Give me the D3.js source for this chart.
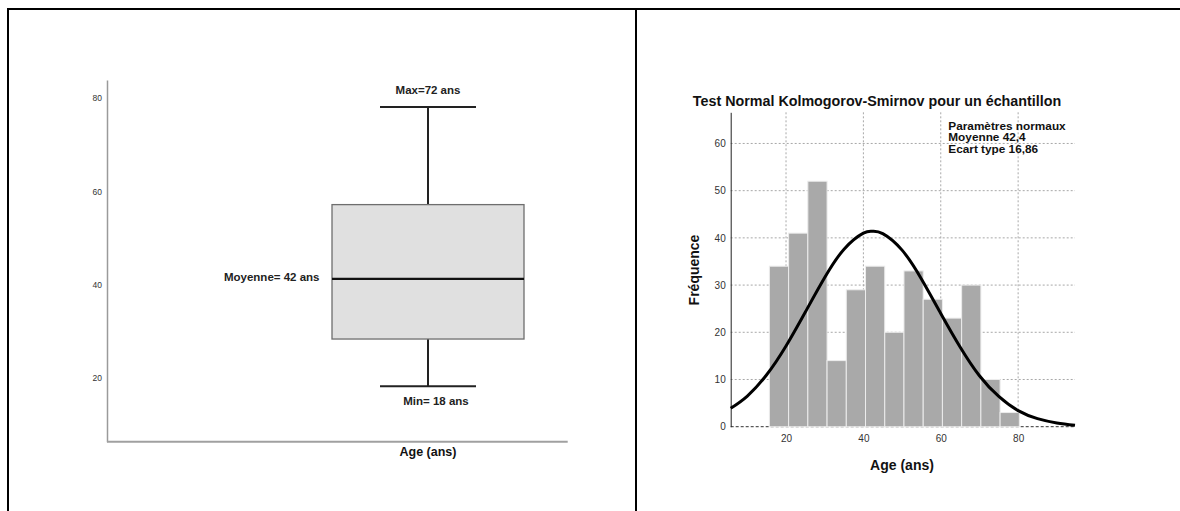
<!DOCTYPE html>
<html>
<head>
<meta charset="utf-8">
<script src="https://d3js.org/d3.v7.min.js"></script>
<style>
  body { margin: 0; background: #fff; }
  text { font-family: "Liberation Sans", Arial, sans-serif; }
</style>
</head>
<body>
<div id="chart"></div>
<script>
// Boxplot (left)
var boxCategory = ["Age (ans)"];
var boxStats = { min: 18.3, q1: 28.4, median: 41.3, q3: 57.2, max: 78.1 };
var boxTicks = [20, 40, 60, 80];
var boxLabels = ["Max=72 ans", "Moyenne= 42 ans", "Min= 18 ans"];

// Histogram (right)
var histCounts = [34, 41, 52, 14, 29, 34, 20, 33, 27, 23, 30, 10, 3];
var binStart = 15.7, binWidth = 4.97;
var histYTicks = [0, 10, 20, 30, 40, 50, 60];
var histXTicks = [20, 40, 60, 80];
// normal curve (age, fréquence)
var curveAge = [5.7, 10, 15, 20, 25, 30, 35, 40, 42.4, 45, 50, 55, 60, 65, 70, 75, 80, 85, 90, 94.7];
var curveFreq = [3.9, 6.5, 11.0, 17.1, 24.3, 31.6, 37.6, 41.0, 41.4, 40.9, 37.4, 31.3, 24.0, 16.9, 10.8, 6.4, 3.4, 1.7, 0.8, 0.3];
var legendLines = ["Paramètres normaux", "Moyenne 42,4", "Ecart type 16,86"];
var histTitle = "Test Normal Kolmogorov-Smirnov pour un échantillon";

var svg = d3.select("#chart")
  .append("svg")
    .attr("width", 1180)
    .attr("height", 511);

// table frame
svg.append("line").attr("x1", 7).attr("x2", 1180).attr("y1", 9).attr("y2", 9)
  .attr("stroke", "#000").attr("stroke-width", 2);
svg.append("line").attr("x1", 8).attr("x2", 8).attr("y1", 8).attr("y2", 511)
  .attr("stroke", "#000").attr("stroke-width", 2);
svg.append("line").attr("x1", 636).attr("x2", 636).attr("y1", 8).attr("y2", 511)
  .attr("stroke", "#000").attr("stroke-width", 2);

/////////////////////////// boxplot

var by = d3.scaleLinear().domain([6.4, 83.9]).range([441.7, 80]);
var bx = d3.scaleBand().domain(boxCategory).range([332, 524]);

var left = svg.append("g");

left.append("g")
  .attr("transform", "translate(107,0)")
  .call(d3.axisLeft(by).tickValues(boxTicks).tickSize(0).tickPadding(5))
  .call(function(g) {
    g.select(".domain").attr("stroke", "#9a9a9a").attr("stroke-width", 1.5);
    g.selectAll("text").attr("font-size", 8.5).attr("fill", "#333")
      .attr("font-family", "Liberation Sans, Arial, sans-serif");
  });

left.append("line")
  .attr("x1", 107).attr("x2", 567.7)
  .attr("y1", by.range()[0]).attr("y2", by.range()[0])
  .attr("stroke", "#a0a0a0").attr("stroke-width", 2);

left.append("g")
  .attr("transform", "translate(0,442)")
  .call(d3.axisBottom(bx).tickSize(0).tickPadding(5))
  .call(function(g) {
    g.select(".domain").remove();
    g.selectAll("text").attr("font-size", 12.5).attr("font-weight", "bold")
      .attr("fill", "#111").attr("font-family", "Liberation Sans, Arial, sans-serif");
  });

var cx = bx(boxCategory[0]) + bx.bandwidth() / 2;
var capW = bx.bandwidth() / 2;

// whiskers
left.append("line")
  .attr("x1", cx).attr("x2", cx)
  .attr("y1", by(boxStats.max)).attr("y2", by(boxStats.q3))
  .attr("stroke", "#222").attr("stroke-width", 2);
left.append("line")
  .attr("x1", cx).attr("x2", cx)
  .attr("y1", by(boxStats.q1)).attr("y2", by(boxStats.min))
  .attr("stroke", "#222").attr("stroke-width", 2);
[boxStats.max, boxStats.min].forEach(function(v) {
  left.append("line")
    .attr("x1", cx - capW / 2).attr("x2", cx + capW / 2)
    .attr("y1", by(v)).attr("y2", by(v))
    .attr("stroke", "#222").attr("stroke-width", 2);
});

left.append("rect")
  .attr("x", bx(boxCategory[0]))
  .attr("y", by(boxStats.q3))
  .attr("width", bx.bandwidth())
  .attr("height", by(boxStats.q1) - by(boxStats.q3))
  .attr("fill", "#e0e0e0")
  .attr("stroke", "#6e6e6e")
  .attr("stroke-width", 1.3);

left.append("line")
  .attr("x1", bx(boxCategory[0])).attr("x2", bx(boxCategory[0]) + bx.bandwidth())
  .attr("y1", by(boxStats.median)).attr("y2", by(boxStats.median))
  .attr("stroke", "#111").attr("stroke-width", 2.2);

// annotations
left.append("text").attr("x", cx).attr("y", by(boxStats.max) - 13)
  .attr("text-anchor", "middle").attr("font-size", 11.5).attr("font-weight", "bold")
  .attr("fill", "#222").text(boxLabels[0]);
left.append("text").attr("x", 319.5).attr("y", by(boxStats.median) + 2)
  .attr("text-anchor", "end").attr("font-size", 11.5).attr("font-weight", "bold")
  .attr("fill", "#222").text(boxLabels[1]);
left.append("text").attr("x", cx + 8).attr("y", by(boxStats.min) + 19)
  .attr("text-anchor", "middle").attr("font-size", 11.5).attr("font-weight", "bold")
  .attr("fill", "#222").text(boxLabels[2]);

/////////////////////////// histogram

var hx = d3.scaleLinear().domain([5.7, 94.7]).range([730.7, 1075]);
var hy = d3.scaleLinear().domain([0, 66.6]).range([426.7, 112.3]);

var right = svg.append("g");

right.append("text")
  .attr("x", 877).attr("y", 105.5)
  .attr("text-anchor", "middle").attr("font-size", 14.3).attr("font-weight", "bold")
  .attr("fill", "#111")
  .text(histTitle);

// grid
right.selectAll(".hgrid")
  .data(histYTicks.filter(function(d) { return d > 0; }))
  .enter().append("line")
    .attr("x1", hx.range()[0]).attr("x2", hx.range()[1])
    .attr("y1", function(d) { return hy(d); })
    .attr("y2", function(d) { return hy(d); })
    .attr("stroke", "#a8a8a8").attr("stroke-dasharray", "2,2");
right.selectAll(".vgrid")
  .data(histXTicks)
  .enter().append("line")
    .attr("x1", function(d) { return hx(d); })
    .attr("x2", function(d) { return hx(d); })
    .attr("y1", hy.range()[1]).attr("y2", hy.range()[0])
    .attr("stroke", "#a8a8a8").attr("stroke-dasharray", "2,2");
right.append("line")
  .attr("x1", hx.range()[0]).attr("x2", hx.range()[1])
  .attr("y1", hy(0)).attr("y2", hy(0))
  .attr("stroke", "#333").attr("stroke-dasharray", "3,2");

// bars
right.selectAll(".bar")
  .data(histCounts)
  .enter().append("rect")
    .attr("x", function(d, i) { return hx(binStart + i * binWidth); })
    .attr("y", function(d) { return hy(d); })
    .attr("width", function(d, i) { return hx(binStart + (i + 1) * binWidth) - hx(binStart + i * binWidth); })
    .attr("height", function(d) { return hy(0) - hy(d); })
    .attr("fill", "#a9a9a9")
    .attr("stroke", "#ececec")
    .attr("stroke-width", 1);

// axes
right.append("g")
  .attr("transform", "translate(" + hx.range()[0] + ",0)")
  .call(d3.axisLeft(hy).tickValues(histYTicks).tickSize(0).tickPadding(5))
  .call(function(g) {
    g.select(".domain").attr("stroke", "#222").attr("stroke-width", 1);
    g.selectAll("text").attr("font-size", 10).attr("fill", "#333")
      .attr("font-family", "Liberation Sans, Arial, sans-serif");
  });
right.append("g")
  .attr("transform", "translate(0," + hy(0) + ")")
  .call(d3.axisBottom(hx).tickValues(histXTicks).tickSize(0).tickPadding(8))
  .call(function(g) {
    g.select(".domain").remove();
    g.selectAll("text").attr("font-size", 10).attr("fill", "#333")
      .attr("font-family", "Liberation Sans, Arial, sans-serif");
  });

// normal curve
var curvePts = curveAge.map(function(a, i) { return { a: a, f: curveFreq[i] }; });
right.append("path")
  .datum(curvePts)
  .attr("fill", "none")
  .attr("stroke", "#000")
  .attr("stroke-width", 3)
  .attr("d", d3.line()
    .curve(d3.curveNatural)
    .x(function(d) { return hx(d.a); })
    .y(function(d) { return hy(d.f); }));

// legend text
right.selectAll(".legend")
  .data(legendLines)
  .enter().append("text")
    .attr("x", 948.3)
    .attr("y", function(d, i) { return 129.5 + i * 11.7; })
    .attr("font-size", 11.8).attr("font-weight", "bold").attr("fill", "#111")
    .text(function(d) { return d; });

right.append("text")
  .attr("x", 902).attr("y", 470)
  .attr("text-anchor", "middle").attr("font-size", 14).attr("font-weight", "bold")
  .attr("fill", "#111").text("Age (ans)");

right.append("text")
  .attr("transform", "translate(699,270) rotate(-90)")
  .attr("text-anchor", "middle").attr("font-size", 14).attr("font-weight", "bold")
  .attr("fill", "#111").text("Fréquence");
</script>
</body>
</html>
